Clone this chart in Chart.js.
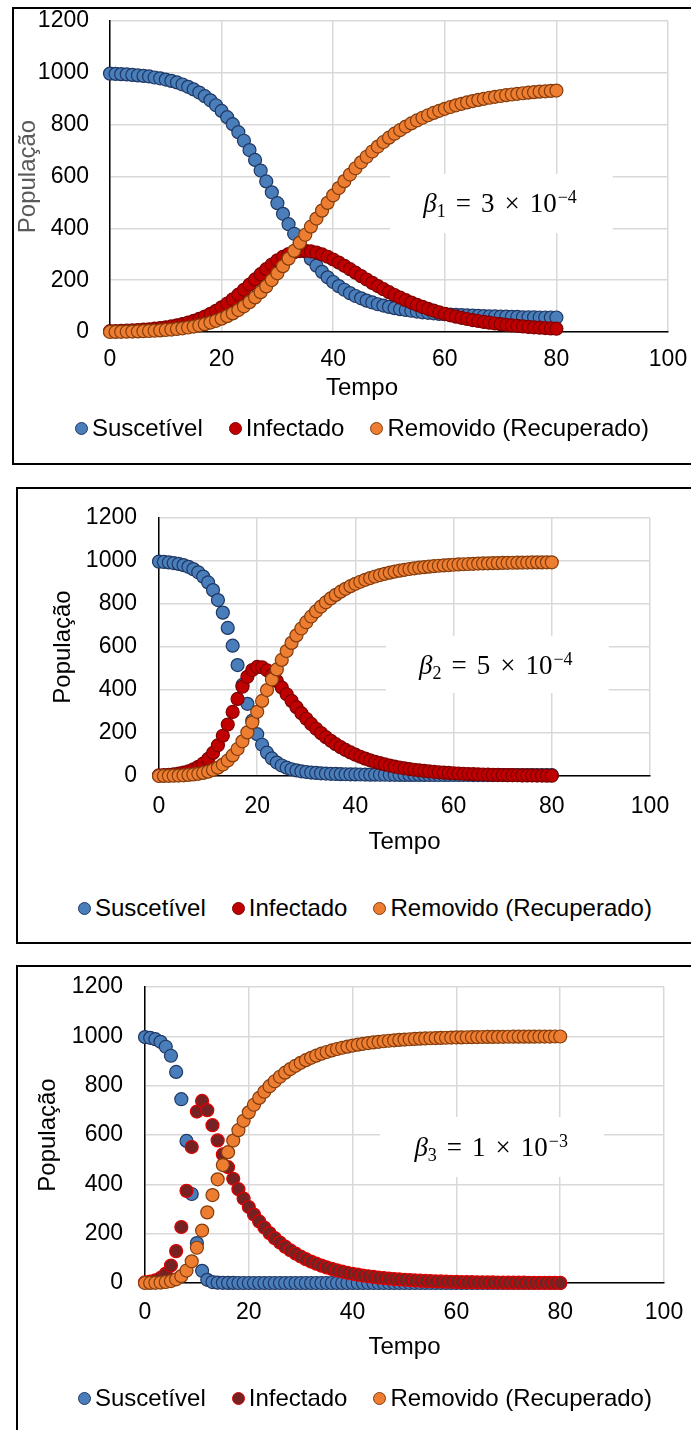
<!DOCTYPE html>
<html lang="pt">
<head>
<meta charset="utf-8">
<script src="https://cdn.jsdelivr.net/npm/chart.js@4.4.1/dist/chart.umd.min.js"></script>
<style>
  body { margin: 0; width: 691px; height: 1430px; position: relative; overflow: hidden; background: #fff;
         font-family: "Liberation Sans", Arial, sans-serif; }
  .moldura { position: absolute; border: 2px solid #000; box-sizing: border-box; }
  canvas { position: absolute; left: 0; }
  .legenda { position: absolute; display: flex; align-items: center; gap: 26px; font-size: 24px;
             line-height: 28px; color: #000; white-space: nowrap; }
  .item { display: flex; align-items: center; }
  .bola { width: 13px; height: 13px; border-radius: 50%; box-sizing: border-box; border: 1.5px solid; margin-right: 4px; }
</style>
</head>
<body>
<div class="moldura" style="left:12px; top:7px; width:700px; height:458px"></div>
<div class="moldura" style="left:16px; top:487px; width:700px; height:457px"></div>
<div class="moldura" style="left:16px; top:965px; width:700px; height:500px"></div>
<canvas id="g1"></canvas>
<canvas id="g2"></canvas>
<canvas id="g3"></canvas>

<script>
// tempo (dias) e eixos
const tempo = [
  0, 1, 2, 3, 4, 5, 6, 7, 8, 9,
  10, 11, 12, 13, 14, 15, 16, 17, 18, 19,
  20, 21, 22, 23, 24, 25, 26, 27, 28, 29,
  30, 31, 32, 33, 34, 35, 36, 37, 38, 39,
  40, 41, 42, 43, 44, 45, 46, 47, 48, 49,
  50, 51, 52, 53, 54, 55, 56, 57, 58, 59,
  60, 61, 62, 63, 64, 65, 66, 67, 68, 69,
  70, 71, 72, 73, 74, 75, 76, 77, 78, 79,
  80];
const ticksX = [0, 20, 40, 60, 80, 100];
const ticksY = [0, 200, 400, 600, 800, 1000, 1200];
const nomes = ['Suscetível', 'Infectado', 'Removido (Recuperado)'];

// beta1 = 3e-4
const suscetivel1 = [
  997, 996, 995, 994, 992, 990, 988, 986, 982, 979,
  974, 969, 963, 955, 946, 936, 924, 910, 894, 875,
  853, 829, 802, 771, 738, 702, 664, 623, 581, 539,
  497, 456, 416, 379, 344, 311, 282, 256, 232, 211,
  193, 177, 163, 150, 139, 130, 121, 114, 107, 102,
  97, 92, 88, 85, 82, 79, 76, 74, 72, 70,
  69, 67, 66, 65, 64, 63, 62, 61, 60, 60,
  59, 59, 58, 58, 57, 57, 57, 56, 56, 56,
  56];
const infectado1 = [
  3, 3.6, 4.3, 5.2, 6.2, 7.4, 8.9, 10.6, 12.7, 15.2,
  18.1, 21.6, 25.7, 30.6, 36.3, 42.9, 50.7, 59.7, 70, 81.8,
  95.1, 109.9, 126.3, 144, 162.9, 182.7, 202.9, 223, 242.4, 260.5,
  276.5, 290.1, 300.8, 308.2, 312.4, 313.4, 311.3, 306.6, 299.4, 290.3,
  279.7, 267.9, 255.4, 242.3, 229, 215.6, 202.5, 189.6, 177.1, 165.1,
  153.6, 142.7, 132.4, 122.7, 113.5, 104.9, 96.9, 89.5, 82.5, 76,
  70, 64.5, 59.3, 54.6, 50.2, 46.1, 42.4, 38.9, 35.8, 32.8,
  30.1, 27.7, 25.4, 23.3, 21.4, 19.6, 18, 16.5, 15.1, 13.8,
  12.7];
const removido1 = [
  0, 0.3, 0.7, 1.1, 1.6, 2.2, 3, 3.9, 4.9, 6.2,
  7.7, 9.5, 11.7, 14.2, 17.3, 20.9, 25.2, 30.3, 36.3, 43.3,
  51.4, 61, 71.9, 84.6, 99, 115.3, 133.5, 153.8, 176.1, 200.4,
  226.4, 254.1, 283.1, 313.1, 344, 375.2, 406.5, 437.7, 468.3, 498.3,
  527.3, 555.3, 582.1, 607.6, 631.8, 654.7, 676.3, 696.5, 715.5, 733.2,
  749.7, 765.1, 779.3, 792.6, 804.9, 816.2, 826.7, 836.4, 845.3, 853.6,
  861.2, 868.2, 874.6, 880.6, 886, 891.1, 895.7, 899.9, 903.8, 907.4,
  910.7, 913.7, 916.4, 919, 921.3, 923.4, 925.4, 927.2, 928.8, 930.3,
  931.7];

// beta2 = 5e-4
const suscetivel2 = [
  997, 995.5, 993.4, 990.5, 986.4, 980.8, 973, 962.2, 947.5, 927.4,
  900.4, 864.6, 818.3, 759.8, 688.7, 606.3, 516, 423.5, 335.6, 258.2,
  194.6, 145.3, 108.5, 81.8, 62.6, 48.8, 38.8, 31.4, 25.9, 21.8,
  18.6, 16.1, 14.2, 12.6, 11.3, 10.3, 9.5, 8.8, 8.2, 7.7,
  7.3, 6.9, 6.6, 6.3, 6.1, 5.9, 5.7, 5.6, 5.4, 5.3,
  5.2, 5.1, 5, 5, 4.9, 4.8, 4.8, 4.7, 4.7, 4.7,
  4.6, 4.6, 4.6, 4.6, 4.5, 4.5, 4.5, 4.5, 4.5, 4.4,
  4.4, 4.4, 4.4, 4.4, 4.4, 4.4, 4.4, 4.4, 4.4, 4.4,
  4.4];
const infectado2 = [
  3, 4.2, 5.9, 8.2, 11.4, 15.9, 22.1, 30.7, 42.4, 58.2,
  79.4, 107.2, 142.9, 187.1, 239.4, 297.9, 358.4, 415.1, 461.4, 492.7,
  507.1, 505.7, 491.8, 469.4, 441.6, 411.3, 380.2, 349.5, 320.1, 292.2,
  266.2, 242, 219.8, 199.4, 180.7, 163.6, 148.1, 134, 121.2, 109.6,
  99, 89.5, 80.9, 73, 66, 59.6, 53.8, 48.6, 43.8, 39.6,
  35.7, 32.2, 29.1, 26.3, 23.7, 21.4, 19.3, 17.4, 15.7, 14.2,
  12.8, 11.6, 10.4, 9.4, 8.5, 7.7, 6.9, 6.2, 5.6, 5.1,
  4.6, 4.1, 3.7, 3.4, 3, 2.7, 2.5, 2.2, 2, 1.8,
  1.6];
const removido2 = [
  0, 0.3, 0.7, 1.3, 2.1, 3.3, 4.9, 7.1, 10.1, 14.4,
  20.2, 28.2, 38.9, 53.2, 71.9, 95.8, 125.6, 161.4, 203, 249.1,
  298.4, 349.1, 399.6, 448.8, 495.8, 539.9, 581.1, 619.1, 654, 686,
  715.3, 741.9, 766.1, 788.1, 808, 826.1, 842.4, 857.2, 870.6, 882.8,
  893.7, 903.6, 912.6, 920.7, 928, 934.6, 940.5, 945.9, 950.7, 955.1,
  959.1, 962.7, 965.9, 968.8, 971.4, 973.8, 975.9, 977.9, 979.6, 981.2,
  982.6, 983.9, 985, 986.1, 987, 987.9, 988.6, 989.3, 989.9, 990.5,
  991, 991.5, 991.9, 992.2, 992.6, 992.9, 993.2, 993.4, 993.6, 993.8,
  994];

// beta3 = 1e-3
const suscetivel3 = [
  997, 994, 988.4, 977.7, 957.8, 921.2, 855.8, 745.1, 576, 360.8,
  161.9, 49.4, 12.9, 3.9, 1.4, 0.6, 0.3, 0.2, 0.1, 0.1,
  0.1, 0.1, 0.1, 0.1, 0.1, 0.1, 0.1, 0.1, 0.1, 0.1,
  0.1, 0.1, 0.1, 0.1, 0.1, 0.1, 0.1, 0.1, 0.1, 0.1,
  0.1, 0.1, 0.1, 0.1, 0.1, 0.1, 0.1, 0.1, 0.1, 0.1,
  0.1, 0.1, 0.1, 0.1, 0.1, 0.1, 0.1, 0.1, 0.1, 0.1,
  0.1, 0.1, 0.1, 0.1, 0.1, 0.1, 0.1, 0.1, 0.1, 0.1,
  0.1, 0.1, 0.1, 0.1, 0.1, 0.1, 0.1, 0.1, 0.1, 0.1,
  0.1];
const infectado3 = [
  3, 5.7, 10.8, 20.4, 38.2, 71, 129.3, 227, 373.5, 551.3,
  695.1, 738.1, 700.7, 639.7, 578.2, 521.2, 469.4, 422.6, 380.4, 342.4,
  308.1, 277.3, 249.6, 224.6, 202.2, 182, 163.8, 147.4, 132.7, 119.4,
  107.5, 96.7, 87, 78.3, 70.5, 63.4, 57.1, 51.4, 46.2, 41.6,
  37.4, 33.7, 30.3, 27.3, 24.6, 22.1, 19.9, 17.9, 16.1, 14.5,
  13.1, 11.8, 10.6, 9.5, 8.6, 7.7, 6.9, 6.2, 5.6, 5,
  4.5, 4.1, 3.7, 3.3, 3, 2.7, 2.4, 2.2, 2, 1.8,
  1.6, 1.4, 1.3, 1.2, 1, 0.9, 0.8, 0.7, 0.7, 0.6,
  0.5];
const removido3 = [
  0, 0.3, 0.9, 1.9, 4, 7.8, 14.9, 27.8, 50.5, 87.9,
  143, 212.5, 286.3, 356.4, 420.4, 478.2, 530.3, 577.3, 619.5, 657.6,
  691.8, 722.6, 750.4, 775.3, 797.8, 818, 836.2, 852.6, 867.3, 880.6,
  892.5, 903.3, 912.9, 921.6, 929.5, 936.5, 942.9, 948.6, 953.7, 958.3,
  962.5, 966.2, 969.6, 972.6, 975.3, 977.8, 980, 982, 983.8, 985.4,
  986.9, 988.2, 989.4, 990.4, 991.4, 992.2, 993, 993.7, 994.3, 994.9,
  995.4, 995.8, 996.3, 996.6, 996.9, 997.2, 997.5, 997.7, 997.9, 998.1,
  998.3, 998.5, 998.6, 998.7, 998.8, 998.9, 999, 999.1, 999.2, 999.3,
  999.3];

const azul = { fill: '#4A7EBB', line: '#1F3864' };
const vermelho = { fill: '#C00000', line: '#7F0000' };
const vinho = { fill: '#772222', line: '#E00000' };
const laranja = { fill: '#ED7D31', line: '#843C0C' };

Chart.defaults.font.family = '"Liberation Sans", Arial, sans-serif';

// caixa branca com o valor de beta + títulos dos eixos
const extras = {
  id: 'extras',
  beforeDatasetsDraw(chart, args, o) {
    const { ctx, scales: { x, y } } = chart;
    const L = x.getPixelForValue(o.caixa[0]), R = x.getPixelForValue(o.caixa[1]);
    const T = y.getPixelForValue(o.caixa[3]), B = y.getPixelForValue(o.caixa[2]);
    ctx.save();
    ctx.fillStyle = '#fff';
    ctx.fillRect(L, T, R - L, B - T);
    const cx = x.getPixelForValue(o.texto[0]);
    const base = y.getPixelForValue(o.texto[1]) + 9;
    const big = '27px "Liberation Serif"', small = '18px "Liberation Serif"';
    const partes = [
      { t: 'β', f: 'italic ' + big, dy: 0, gap: 0 },
      { t: o.sub, f: small, dy: 5, gap: 0 },
      { t: '=', f: big, dy: 0, gap: 10 },
      { t: o.mant, f: big, dy: 0, gap: 10 },
      { t: '×', f: big, dy: 0, gap: 10 },
      { t: '10', f: big, dy: 0, gap: 10 },
      { t: '−' + o.exp, f: small, dy: -9, gap: 1 }
    ];
    let w = 0;
    partes.forEach(p => { ctx.font = p.f; p.w = ctx.measureText(p.t).width; w += p.gap + p.w; });
    let xx = cx - w / 2;
    ctx.fillStyle = '#000';
    ctx.textAlign = 'left';
    ctx.textBaseline = 'alphabetic';
    partes.forEach(p => { xx += p.gap; ctx.font = p.f; ctx.fillText(p.t, xx, base + p.dy); xx += p.w; });
    ctx.restore();
  },
  afterDraw(chart, args, o) {
    const { ctx, chartArea: a } = chart;
    ctx.save();
    ctx.font = '24px "Liberation Sans", Arial, sans-serif';
    ctx.textAlign = 'center';
    ctx.textBaseline = 'middle';
    ctx.fillStyle = '#000';
    ctx.fillText('Tempo', (a.left + a.right) / 2 + o.tx, a.bottom + o.ty);
    ctx.translate(a.left - o.yx, (a.top + a.bottom) / 2);
    ctx.rotate(-Math.PI / 2);
    ctx.fillStyle = o.corY;
    ctx.fillText('População', 0, 0);
    ctx.restore();
  }
};

const larguraCanvas = 730;

const paineis = [
  { id: 'g1', area: { l: 110, r: 668, t: 21, b: 332 }, padX: 14, padY: 21,
    series: [suscetivel1, infectado1, removido1], cores: [azul, vermelho, laranja],
    extras: { caixa: [50.2, 90.1, 382, 610], texto: [69.9, 498], sub: '1', mant: '3', exp: '4',
              tx: -27, ty: 56, yx: 82, corY: '#595959' },
    legenda: { left: 75, y: 428 } },
  { id: 'g2', area: { l: 159, r: 650, t: 518, b: 776 }, padX: 17, padY: 22,
    series: [suscetivel2, infectado2, removido2], cores: [azul, vermelho, laranja],
    extras: { caixa: [46.2, 91.6, 386, 651], texto: [68.6, 516], sub: '2', mant: '5', exp: '4',
              tx: 0, ty: 66, yx: 96, corY: '#000' },
    legenda: { left: 78, y: 908 } },
  { id: 'g3', area: { l: 145, r: 664, t: 987, b: 1283 }, padX: 16, padY: 22,
    series: [suscetivel3, infectado3, removido3], cores: [azul, vinho, laranja],
    extras: { caixa: [45.3, 88.4, 430, 673], texto: [66.7, 553], sub: '3', mant: '1', exp: '3',
              tx: 0, ty: 64, yx: 97, corY: '#000' },
    legenda: { left: 78, y: 1398 } }
];

paineis.forEach(p => {
  const cv = document.getElementById(p.id);
  // canvas com folga acima e à direita, para que o Chart.js não encolha a área do gráfico
  const topo = p.area.t - 45;
  const altura = p.area.b - topo + 110;
  cv.width = larguraCanvas;
  cv.height = altura;
  cv.style.top = topo + 'px';
  const pad = { left: 0, top: 45, right: larguraCanvas - p.area.r, bottom: 70 };

  const datasets = p.series.map((s, i) => ({
    label: nomes[i],
    data: tempo.map((t, k) => ({ x: t, y: s[k] })),
    backgroundColor: p.cores[i].fill,
    borderColor: p.cores[i].line,
    pointRadius: 6.5,
    pointHoverRadius: 6.5,
    pointBorderWidth: 1.2,
    showLine: false,
    clip: false,
    order: 3 - i
  }));

  const grade = { color: '#D9D9D9', lineWidth: 1.5, drawTicks: false };
  const eixo = { color: '#000', width: 1.5 };
  const numero = v => String(v);

  new Chart(cv, {
    type: 'scatter',
    data: { datasets },
    options: {
      responsive: false,
      animation: false,
      events: [],
      layout: { padding: pad, autoPadding: false },
      plugins: { legend: { display: false }, tooltip: { enabled: false }, extras: p.extras },
      scales: {
        x: {
          type: 'linear', min: 0, max: 100,
          afterBuildTicks: s => { s.ticks = ticksX.map(v => ({ value: v })); },
          afterFit: s => { s.height = 40; },
          ticks: { font: { size: 23 }, color: '#000', padding: p.padX, callback: numero },
          grid: grade, border: eixo
        },
        y: {
          type: 'linear', min: 0, max: 1200,
          afterBuildTicks: s => { s.ticks = ticksY.map(v => ({ value: v })); },
          afterFit: s => { s.width = p.area.l; },
          ticks: { font: { size: 23 }, color: '#000', padding: p.padY, callback: numero },
          grid: grade, border: eixo
        }
      }
    },
    plugins: [extras]
  });

  // legenda
  const leg = document.createElement('div');
  leg.className = 'legenda';
  leg.style.left = p.legenda.left + 'px';
  leg.style.top = (p.legenda.y - 14) + 'px';
  nomes.forEach((n, i) => {
    const it = document.createElement('span');
    it.className = 'item';
    const b = document.createElement('span');
    b.className = 'bola';
    b.style.background = p.cores[i].fill;
    b.style.borderColor = p.cores[i].line;
    it.appendChild(b);
    it.appendChild(document.createTextNode(n));
    leg.appendChild(it);
  });
  document.body.appendChild(leg);
});
</script>
</body>
</html>
